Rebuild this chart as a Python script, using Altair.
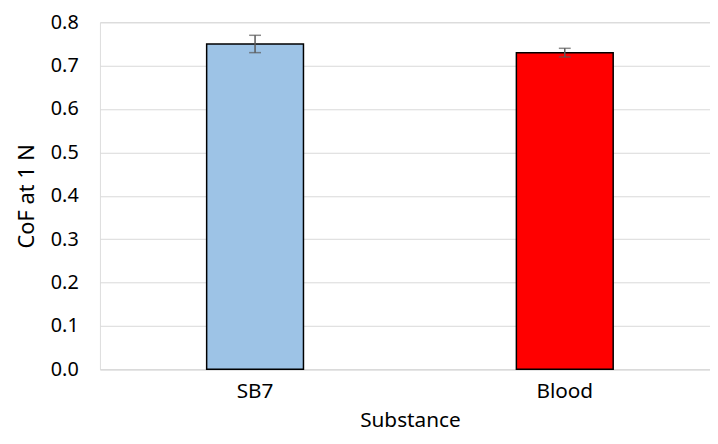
import altair as alt
import pandas as pd

substances = ["SB7", "Blood"]
cof = [0.75, 0.73]
err = [0.02, 0.01]
colors = ["#9DC3E6", "#FF0000"]

df = pd.DataFrame({"Substance": substances, "CoF": cof, "err": err, "color": colors})
df["lo"] = df["CoF"] - df["err"]
df["hi"] = df["CoF"] + df["err"]

FONT = "Noto Sans"

xscale = alt.Scale(domain=substances, paddingInner=0.6874, paddingOuter=0.3445)
yscale = alt.Scale(domain=[0, 0.8])

x = alt.X("Substance:N", scale=xscale, sort=substances,
          axis=alt.Axis(title="Substance", labelAngle=0, ticks=False, domain=True,
                        domainColor="#d9d9d9", domainWidth=1, labelPadding=11,
                        titlePadding=9, labelFontSize=21, titleFontSize=21,
                        labelFont=FONT, titleFont=FONT, labelColor="#000", titleColor="#000",
                        titleFontWeight="normal"))

base = alt.Chart(df)

bars = base.mark_bar(stroke="black", strokeWidth=1.5).encode(
    x=x,
    y=alt.Y("CoF:Q", scale=yscale,
            axis=alt.Axis(title="CoF at 1 N", values=[0, 0.1, 0.2, 0.3, 0.4, 0.5, 0.6, 0.7, 0.8],
                          format=".1f", domain=False, ticks=False, grid=True,
                          gridColor="#d9d9d9", gridWidth=1, labelPadding=22,
                          titlePadding=12, labelFontSize=20, titleFontSize=22,
                          labelFont=FONT, titleFont=FONT, labelColor="#000", titleColor="#000",
                          titleFontWeight="normal")),
    color=alt.Color("color:N", scale=None),
)

rules = base.mark_rule(color="#595959", strokeWidth=1.5).encode(
    x=alt.X("Substance:N", scale=xscale, sort=substances),
    y=alt.Y("lo:Q", scale=yscale),
    y2="hi:Q",
)
cap_lo = base.mark_tick(color="#595959", thickness=1.5, size=12, orient="horizontal").encode(
    x=alt.X("Substance:N", scale=xscale, sort=substances),
    y=alt.Y("lo:Q", scale=yscale),
)
cap_hi = base.mark_tick(color="#595959", thickness=1.5, size=12, orient="horizontal").encode(
    x=alt.X("Substance:N", scale=xscale, sort=substances),
    y=alt.Y("hi:Q", scale=yscale),
)

chart = alt.layer(bars, rules, cap_lo, cap_hi).properties(
    width=627, height=351,
    autosize=alt.AutoSizeParams(type="none"),
    padding={"left": 93, "top": 12, "right": -10, "bottom": 65},
).configure_view(stroke=None).configure(background="white")

chart.save("out.html", embed_options={"renderer": "svg", "actions": False})
